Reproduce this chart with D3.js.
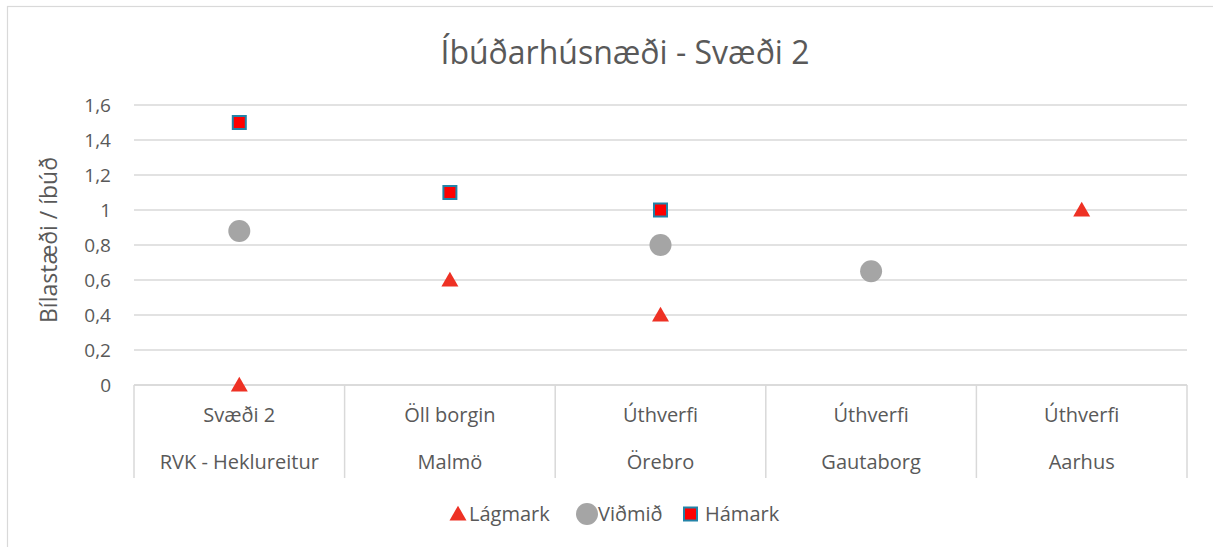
<!DOCTYPE html>
<html>
<head>
<meta charset="utf-8">
<script src="https://d3js.org/d3.v7.min.js"></script>
<style>
  body { margin: 0; background: #fff; }
  text { font-family: "Open Sans", sans-serif; fill: #595959; }
</style>
</head>
<body>
<div id="chart"></div>
<script>
// data
const places = ["Svæði 2", "Öll borgin", "Úthverfi", "Úthverfi", "Úthverfi"];
const cities = ["RVK - Heklureitur", "Malmö", "Örebro", "Gautaborg", "Aarhus"];
const lagmark = [0, 0.6, 0.4, null, 1.0];
const vidmid = [0.88, null, 0.8, 0.65, null];
const hamark = [1.5, 1.1, 1.0, null, null];
const yTicks = [0, 0.2, 0.4, 0.6, 0.8, 1, 1.2, 1.4, 1.6];

const width = 1213;
const height = 547;

const margin = { top: 105, right: 26, bottom: 162, left: 134 };
const chartWidth = width - margin.left - margin.right;
const chartHeight = height - margin.top - margin.bottom;

const svg = d3.select("#chart").append("svg")
    .attr("width", width)
    .attr("height", height);

// outer border
svg.append("rect")
    .attr("x", 7.5).attr("y", 6.5)
    .attr("width", width + 10).attr("height", height + 10)
    .attr("fill", "none")
    .attr("stroke", "#d9d9d9")
    .attr("stroke-width", 1.2);

// title
svg.append("text")
    .attr("x", 625).attr("y", 64)
    .attr("text-anchor", "middle")
    .style("font-size", "32px")
    .text("Íbúðarhúsnæði - Svæði 2");

const chartGroup = svg.append("g")
    .attr("transform", `translate(${margin.left}, ${margin.top})`);

const x = d3.scaleBand()
    .domain(d3.range(places.length))
    .range([0, chartWidth]);

const y = d3.scaleLinear()
    .domain([0, 1.6])
    .range([chartHeight, 0]);

// gridlines
chartGroup.append("g")
    .selectAll("line")
    .data(yTicks)
    .enter().append("line")
    .attr("x1", 0).attr("x2", chartWidth)
    .attr("y1", d => y(d)).attr("y2", d => y(d))
    .attr("stroke", "#d9d9d9")
    .attr("stroke-width", 1.5);

// y axis labels
const fmt = d => String(d).replace(".", ",");
const leftAxis = d3.axisLeft(y).tickValues(yTicks).tickFormat(fmt).tickSize(0).tickPadding(23);
const yAxis = chartGroup.append("g").call(leftAxis);
yAxis.select(".domain").remove();
yAxis.selectAll("text")
    .style("font-family", "'Open Sans', sans-serif")
    .style("font-size", "19px")
    .attr("fill", "#595959");

// y axis title
chartGroup.append("text")
    .attr("transform", `translate(-77, ${chartHeight / 2 - 5}) rotate(-90)`)
    .attr("text-anchor", "middle")
    .style("font-size", "23px")
    .text("Bílastæði / íbúð");

// category axis box
const boundaries = d3.range(places.length + 1).map(i => i * x.bandwidth());
chartGroup.append("g")
    .selectAll("line")
    .data(boundaries)
    .enter().append("line")
    .attr("x1", d => d).attr("x2", d => d)
    .attr("y1", chartHeight).attr("y2", chartHeight + 93)
    .attr("stroke", "#d9d9d9")
    .attr("stroke-width", 1.5);

chartGroup.append("line")
    .attr("x1", 0).attr("x2", chartWidth)
    .attr("y1", chartHeight).attr("y2", chartHeight)
    .attr("stroke", "#d9d9d9")
    .attr("stroke-width", 1.5);

const cx = i => x(i) + x.bandwidth() / 2;

chartGroup.append("g")
    .selectAll("text")
    .data(places)
    .enter().append("text")
    .attr("x", (d, i) => cx(i))
    .attr("y", chartHeight + 37)
    .attr("text-anchor", "middle")
    .style("font-size", "20px")
    .text(d => d);

chartGroup.append("g")
    .selectAll("text")
    .data(cities)
    .enter().append("text")
    .attr("x", (d, i) => cx(i))
    .attr("y", chartHeight + 84)
    .attr("text-anchor", "middle")
    .style("font-size", "20px")
    .text(d => d);

// markers
const triangle = d3.symbol().type(d3.symbolTriangle).size(125);

chartGroup.append("g")
    .selectAll("circle")
    .data(vidmid.map((v, i) => ({ v, i })).filter(d => d.v !== null))
    .enter().append("circle")
    .attr("cx", d => cx(d.i))
    .attr("cy", d => y(d.v))
    .attr("r", 11)
    .attr("fill", "#a5a5a5");

chartGroup.append("g")
    .selectAll("path")
    .data(lagmark.map((v, i) => ({ v, i })).filter(d => d.v !== null))
    .enter().append("path")
    .attr("d", triangle)
    .attr("transform", d => `translate(${cx(d.i)}, ${y(d.v) + 1.5})`)
    .attr("fill", "#ee3124");

chartGroup.append("g")
    .selectAll("rect")
    .data(hamark.map((v, i) => ({ v, i })).filter(d => d.v !== null))
    .enter().append("rect")
    .attr("x", d => cx(d.i) - 6.5)
    .attr("y", d => y(d.v) - 6.5)
    .attr("width", 13).attr("height", 13)
    .attr("fill", "#ff0000")
    .attr("stroke", "#2383a8")
    .attr("stroke-width", 2);

// legend
const legend = svg.append("g").attr("transform", "translate(0, 514)");
legend.append("path")
    .attr("d", triangle)
    .attr("transform", "translate(458, 1.5)")
    .attr("fill", "#ee3124");
legend.append("text").attr("x", 469).attr("y", 7).style("font-size", "20px").text("Lágmark");
legend.append("circle")
    .attr("cx", 587).attr("cy", 0).attr("r", 11)
    .attr("fill", "#a5a5a5");
legend.append("text").attr("x", 598).attr("y", 7).style("font-size", "20px").text("Viðmið");
legend.append("rect")
    .attr("x", 684).attr("y", -6.5)
    .attr("width", 13).attr("height", 13)
    .attr("fill", "#ff0000")
    .attr("stroke", "#2383a8")
    .attr("stroke-width", 2);
legend.append("text").attr("x", 705).attr("y", 7).style("font-size", "20px").text("Hámark");
</script>
</body>
</html>
